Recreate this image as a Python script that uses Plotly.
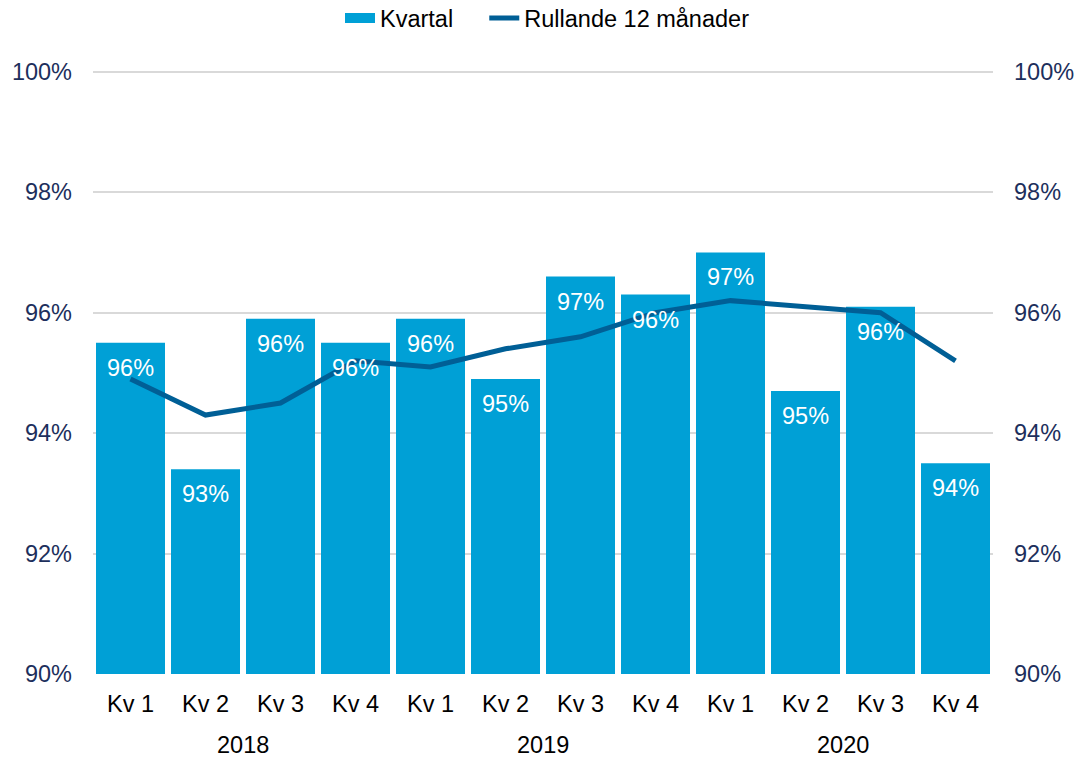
import plotly.graph_objects as go

years = ["2018", "2019", "2020"]
quarters = ["Kv 1", "Kv 2", "Kv 3", "Kv 4"] * 3
kvartal = [95.5, 93.4, 95.9, 95.5, 95.9, 94.9, 96.6, 96.3, 97.0, 94.7, 96.1, 93.5]
rullande = [94.9, 94.3, 94.5, 95.2, 95.1, 95.4, 95.6, 96.0, 96.2, 96.1, 96.0, 95.2]
ticks = [90, 92, 94, 96, 98, 100]

font = "Liberation Sans, Arial, sans-serif"
fs = 23.5
navy = "#1d2f5c"
bar_col = "#00a0d6"
line_col = "#005f96"
pos = list(range(len(quarters)))

fig = go.Figure()
fig.add_trace(go.Bar(
    x=pos, y=kvartal, name="Kvartal", showlegend=False,
    marker=dict(color=bar_col, line=dict(width=0)),
))
# legend entry for the bars drawn as a wide block, like the original
fig.add_trace(go.Scatter(
    x=[None], y=[None], name="Kvartal" + "&nbsp;" * 4, mode="lines",
    line=dict(color=bar_col, width=12),
))
fig.add_trace(go.Scatter(
    x=pos, y=rullande, name="Rullande 12 månader",
    mode="lines", line=dict(color=line_col, width=5),
))
# invisible trace to carry the right axis
fig.add_trace(go.Scatter(
    x=pos, y=rullande, yaxis="y2", mode="lines",
    line=dict(width=0), showlegend=False, hoverinfo="skip", opacity=0,
))

# data labels just inside the top of each bar
for x, v in zip(pos, kvartal):
    fig.add_annotation(x=x, y=v, xref="x", yref="y", text=f"{v:.0f}%",
                       showarrow=False, yanchor="middle", yshift=-25,
                       font=dict(size=fs, color="white", family=font))

# year labels under each group of four quarters
for i, yr in enumerate(years):
    fig.add_annotation(x=i * 4 + 1.5, y=-0.117, xref="x", yref="paper",
                       text=yr, showarrow=False, yanchor="middle",
                       font=dict(size=fs, color="black", family=font))

fig.update_layout(
    width=1079, height=760,
    margin=dict(l=93, r=86, t=70, b=86),
    plot_bgcolor="white", paper_bgcolor="white",
    font=dict(family=font, size=fs, color="black"),
    bargap=0.08,
    legend=dict(orientation="h", x=0.505, xanchor="center",
                yref="container", y=0.976, yanchor="middle",
                font=dict(size=fs, color="black"), traceorder="normal"),
    xaxis=dict(range=[-0.5, 11.5], tickvals=pos, ticktext=quarters,
               showgrid=False, zeroline=False, ticks="", showline=False,
               tickfont=dict(size=fs, color="black"), ticklabelstandoff=13,
               automargin=False),
    yaxis=dict(range=[90, 100.03], tickvals=ticks,
               ticktext=[f"{t}%" for t in ticks],
               gridcolor="#d9d9d9", gridwidth=2, zeroline=False,
               tickfont=dict(size=fs, color=navy), ticklabelstandoff=20,
               automargin=False),
    yaxis2=dict(range=[90, 100.03], tickvals=ticks,
                ticktext=[f"{t}%" for t in ticks], overlaying="y", side="right",
                showgrid=False, zeroline=False,
                tickfont=dict(size=fs, color=navy), ticklabelstandoff=20,
                automargin=False),
)

fig.write_html("out.html", config={"displayModeBar": False},
               post_script="document.body.style.margin='0';document.body.style.overflow='hidden';")
